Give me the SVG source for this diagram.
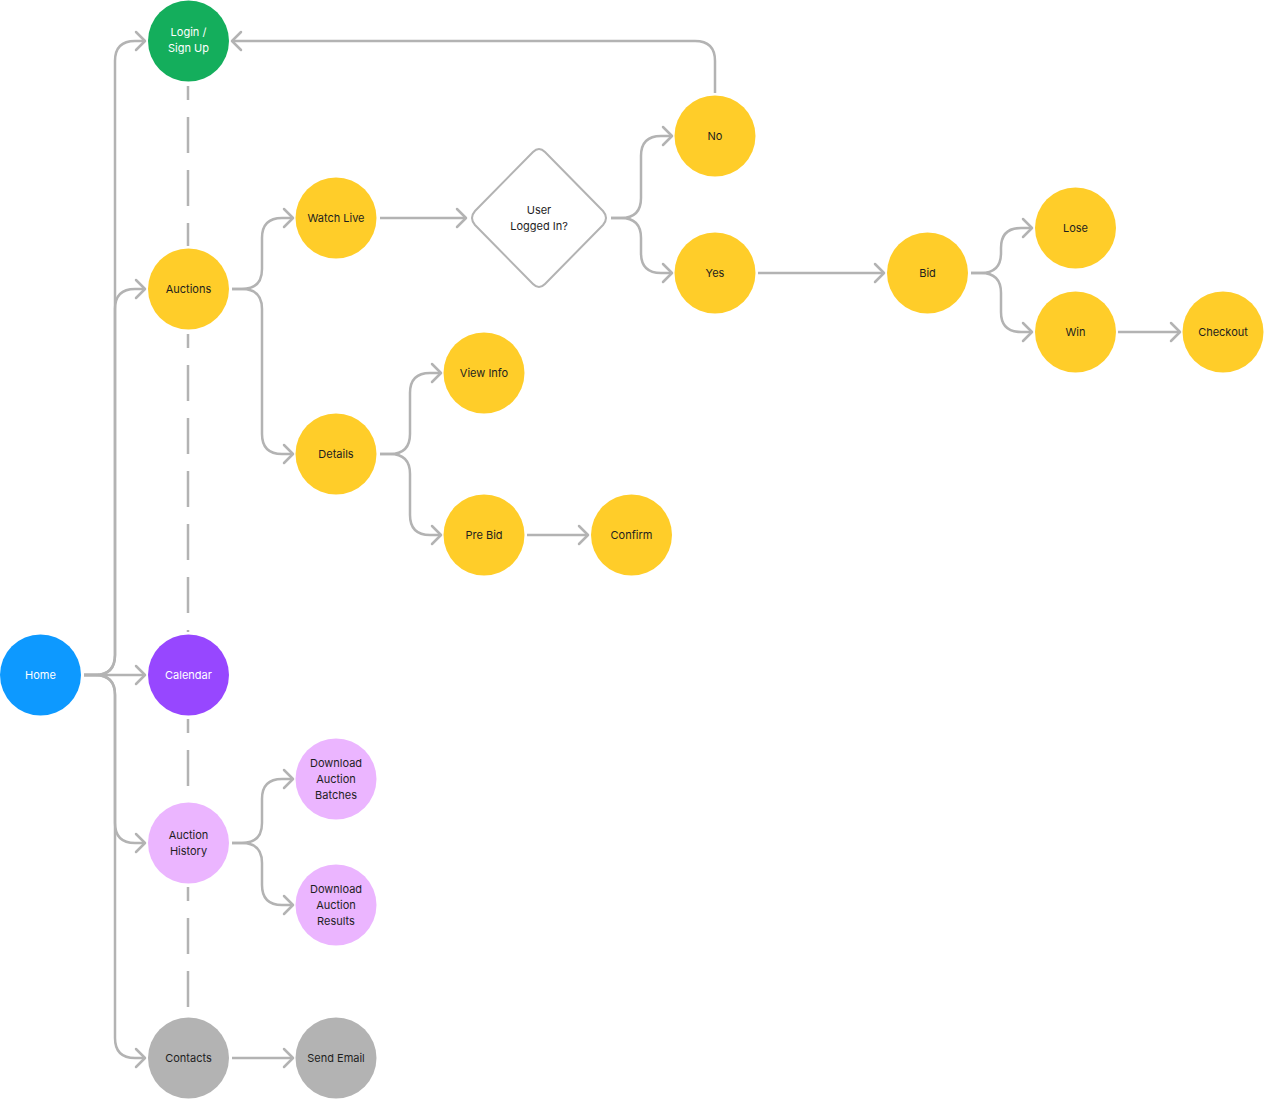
<svg xmlns="http://www.w3.org/2000/svg" width="1264" height="1099" viewBox="0 0 1264 1099">
<style>
.c{fill:none;stroke:#B3B3B3;stroke-width:2.5;stroke-linecap:butt;stroke-linejoin:round}
.arr{marker-end:url(#ah)}
.d{fill:none;stroke:#B3B3B3;stroke-width:2.5;stroke-dasharray:36 17;stroke-dashoffset:22}
text{font-family:Inter,"Noto Sans","Liberation Sans",sans-serif;font-size:11px;text-anchor:middle;fill:#1E1E1E}
.w{fill:#FFFFFF}
.y{fill:#FFCD29}
.g{fill:#14AE5C}
.b{fill:#0D99FF}
.p{fill:#9747FF}
.pk{fill:#EBB5FF}
.gr{fill:#B3B3B3}
</style>
<defs>
<marker id="ah" markerUnits="userSpaceOnUse" viewBox="-12 -12 14 24" refX="0" refY="0" markerWidth="14" markerHeight="24" orient="auto" overflow="visible">
<path d="M-9,-9 L0,0 L-9,9" fill="none" stroke="#B3B3B3" stroke-width="2.5" stroke-linecap="round" stroke-linejoin="round"/>
</marker>
</defs>
<g id="connectors">
<path class="d" d="M188,86 V246"/>
<path class="d" d="M188,334 V632"/>
<path class="d" d="M188,719 V800"/>
<path class="d" d="M188,887 V1015"/>
<path class="c arr" d="M84,675 H95 Q115,675 115,655 V61 Q115,41 135,41 H145"/>
<path class="c arr" d="M84,675 H95 Q115,675 115,655 V309 Q115,289 135,289 H145"/>
<path class="c arr" d="M84,675 H145"/>
<path class="c arr" d="M84,675 H95 Q115,675 115,695 V823 Q115,843 135,843 H145"/>
<path class="c arr" d="M84,675 H95 Q115,675 115,695 V1038 Q115,1058 135,1058 H145"/>
<path class="c arr" d="M232,289 H242 Q262,289 262,269 V238 Q262,218 282,218 H293"/>
<path class="c arr" d="M232,289 H242 Q262,289 262,309 V434 Q262,454 282,454 H293"/>
<path class="c arr" d="M380,218 H466"/>
<path class="c arr" d="M611,218 H621 Q641,218 641,198 V156 Q641,136 661,136 H672"/>
<path class="c arr" d="M611,218 H621 Q641,218 641,238 V253 Q641,273 661,273 H672"/>
<path class="c arr" d="M715,93 V61 Q715,41 695,41 H232"/>
<path class="c arr" d="M758,273 H884"/>
<path class="c arr" d="M971,273 H981 Q1001,273 1001,253 V248 Q1001,228 1021,228 H1032"/>
<path class="c arr" d="M971,273 H981 Q1001,273 1001,293 V312 Q1001,332 1021,332 H1032"/>
<path class="c arr" d="M1118,332 H1180"/>
<path class="c arr" d="M380,454 H390 Q410,454 410,434 V393 Q410,373 430,373 H441"/>
<path class="c arr" d="M380,454 H390 Q410,454 410,474 V515 Q410,535 430,535 H441"/>
<path class="c arr" d="M527,535 H588"/>
<path class="c arr" d="M232,843 H242 Q262,843 262,823 V799 Q262,779 282,779 H293"/>
<path class="c arr" d="M232,843 H242 Q262,843 262,863 V885 Q262,905 282,905 H293"/>
<path class="c arr" d="M232,1058 H293"/>
</g>
<g id="login"><circle class="g" cx="188.5" cy="41" r="40.5"/><text class="w" x="188.5" y="36">Login /</text><text class="w" x="188.5" y="52">Sign Up</text></g>
<g id="auctions"><circle class="y" cx="188.5" cy="289" r="40.5"/><text x="188.5" y="293">Auctions</text></g>
<g id="home"><circle class="b" cx="40.5" cy="675" r="40.5"/><text class="w" x="40.5" y="679">Home</text></g>
<g id="calendar"><circle class="p" cx="188.5" cy="675" r="40.5"/><text class="w" x="188.5" y="679">Calendar</text></g>
<g id="auction-history"><circle class="pk" cx="188.5" cy="843" r="40.5"/><text x="188.5" y="839">Auction</text><text x="188.5" y="855">History</text></g>
<g id="contacts"><circle class="gr" cx="188.5" cy="1058" r="40.5"/><text x="188.5" y="1062">Contacts</text></g>
<g id="send-email"><circle class="gr" cx="336" cy="1058" r="40.5"/><text x="336" y="1062">Send Email</text></g>
<g id="download-batches"><circle class="pk" cx="336" cy="779" r="40.5"/><text x="336" y="767">Download</text><text x="336" y="783">Auction</text><text x="336" y="799">Batches</text></g>
<g id="download-results"><circle class="pk" cx="336" cy="905" r="40.5"/><text x="336" y="893">Download</text><text x="336" y="909">Auction</text><text x="336" y="925">Results</text></g>
<g id="watch-live"><circle class="y" cx="336" cy="218" r="40.5"/><text x="336" y="222">Watch Live</text></g>
<g id="details"><circle class="y" cx="336" cy="454" r="40.5"/><text x="336" y="458">Details</text></g>
<g id="view-info"><circle class="y" cx="484" cy="373" r="40.5"/><text x="484" y="377">View Info</text></g>
<g id="pre-bid"><circle class="y" cx="484" cy="535" r="40.5"/><text x="484" y="539">Pre Bid</text></g>
<g id="confirm"><circle class="y" cx="631.5" cy="535" r="40.5"/><text x="631.5" y="539">Confirm</text></g>
<g id="user-logged-in"><path d="M533,152 Q539,146 545,152 L603,211 Q609,218 603,225 L545,284 Q539,290 533,284 L475,225 Q469,218 475,211 Z" fill="#FFFFFF" stroke="#B3B3B3" stroke-width="2"/><text x="539" y="214">User</text><text x="539" y="230">Logged In?</text></g>
<g id="no"><circle class="y" cx="715" cy="136" r="40.5"/><text x="715" y="140">No</text></g>
<g id="yes"><circle class="y" cx="715" cy="273" r="40.5"/><text x="715" y="277">Yes</text></g>
<g id="bid"><circle class="y" cx="927.5" cy="273" r="40.5"/><text x="927.5" y="277">Bid</text></g>
<g id="lose"><circle class="y" cx="1075.5" cy="228" r="40.5"/><text x="1075.5" y="232">Lose</text></g>
<g id="win"><circle class="y" cx="1075.5" cy="332" r="40.5"/><text x="1075.5" y="336">Win</text></g>
<g id="checkout"><circle class="y" cx="1223" cy="332" r="40.5"/><text x="1223" y="336">Checkout</text></g>
</svg>
